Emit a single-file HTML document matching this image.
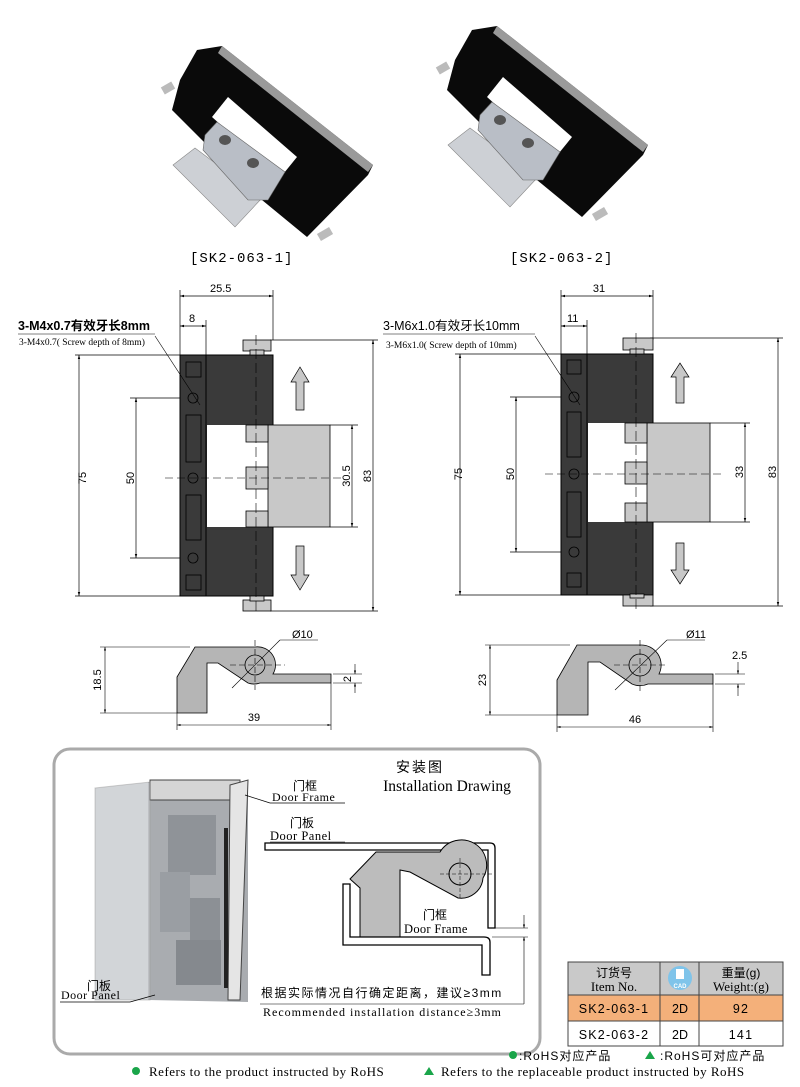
<!DOCTYPE html>
<html><head><meta charset="utf-8"><style>
html,body{margin:0;padding:0;background:#fff;}
svg{display:block;}
.s{font-family:"Liberation Sans","Noto Sans CJK SC",sans-serif;}
.r{font-family:"Liberation Serif","Noto Serif CJK SC",serif;}
.m{font-family:"Liberation Mono","Noto Sans CJK SC",monospace;}
</style></head><body>
<svg width="800" height="1087" viewBox="0 0 800 1087" xmlns="http://www.w3.org/2000/svg">
<defs>
<marker id="a" viewBox="0 0 10 10" refX="10" refY="5" markerWidth="6" markerHeight="6" orient="auto-start-reverse"><path d="M0,2 L10,5 L0,8z" fill="#000"/></marker>
<g id="photo">
  <polygon points="197,50 222,46 373,165 368,175 307,237 262,200 172,110 180,80" fill="#0a0a0a"/>
  <polygon points="222,46 373,165 368,172 218,53" fill="#9a9a9a"/>
  <polygon points="228,97 297,157 280,178 212,117" fill="#fff"/>
  <polygon points="173,165 195,148 262,198 235,227" fill="#cdd0d5" stroke="#888" stroke-width="0.6"/>
  <polygon points="205,135 217,122 285,172 268,200 248,200 203,150" fill="#b9bec6" stroke="#666" stroke-width="0.6"/>
  <ellipse cx="225" cy="140" rx="6" ry="5" fill="#555"/><ellipse cx="253" cy="163" rx="6" ry="5" fill="#555"/>
  <rect x="162" y="84" width="12" height="8" fill="#bbb" transform="rotate(-30 168 88)"/>
  <rect x="318" y="230" width="14" height="8" fill="#bbb" transform="rotate(-30 325 234)"/>
</g>
</defs>
<use href="#photo"/>
<use href="#photo" transform="translate(275,-20)"/>
<text x="190" y="262" class="m" font-size="14" letter-spacing="1">[SK2-063-1]</text>
<text x="510" y="262" class="m" font-size="14" letter-spacing="1">[SK2-063-2]</text>

<!-- LEFT DRAWING -->
<g stroke="#000" stroke-width="0.7" fill="none">
  <line x1="180" y1="290" x2="180" y2="355"/><line x1="273" y1="290" x2="273" y2="340"/><line x1="206" y1="320" x2="206" y2="355"/>
  <line x1="180" y1="296" x2="273" y2="296" marker-start="url(#a)" marker-end="url(#a)"/>
  <line x1="180" y1="326" x2="206" y2="326" marker-start="url(#a)" marker-end="url(#a)"/>
  <line x1="75" y1="355" x2="180" y2="355"/><line x1="75" y1="596" x2="180" y2="596"/>
  <line x1="79" y1="355" x2="79" y2="596" marker-start="url(#a)" marker-end="url(#a)"/>
  <line x1="130" y1="398" x2="193" y2="398"/><line x1="130" y1="558" x2="193" y2="558"/>
  <line x1="136" y1="398" x2="136" y2="558" marker-start="url(#a)" marker-end="url(#a)"/>
  <line x1="330" y1="425" x2="358" y2="425"/><line x1="330" y1="527" x2="358" y2="527"/>
  <line x1="352" y1="425" x2="352" y2="527" marker-start="url(#a)" marker-end="url(#a)"/>
  <line x1="270" y1="340" x2="378" y2="340"/><line x1="270" y1="611" x2="378" y2="611"/>
  <line x1="373" y1="340" x2="373" y2="611" marker-start="url(#a)" marker-end="url(#a)"/>
</g>
<rect x="180" y="355" width="93" height="241" fill="#3a3a3a" stroke="#000"/>
<line x1="206" y1="355" x2="206" y2="596" stroke="#000"/>
<rect x="207" y="425" width="66" height="102" fill="#fff"/>
<rect x="268" y="425" width="62" height="102" fill="#c8c8c8" stroke="#000" stroke-width="0.8"/>
<g fill="#c8c8c8" stroke="#000" stroke-width="0.8">
<rect x="246" y="425" width="22" height="17"/><rect x="246" y="467" width="22" height="22"/><rect x="246" y="511" width="22" height="16"/>
<rect x="243" y="340" width="28" height="11"/><rect x="250" y="350" width="14" height="5"/>
<rect x="243" y="600" width="28" height="11"/><rect x="250" y="596" width="14" height="5"/>
</g>
<g fill="none" stroke="#000" stroke-width="0.8">
<rect x="186" y="362" width="15" height="15"/><rect x="186" y="415" width="15" height="47"/><rect x="186" y="495" width="15" height="45"/><rect x="186" y="575" width="15" height="15"/>
<circle cx="193" cy="398" r="5"/><circle cx="193" cy="478" r="5"/><circle cx="193" cy="558" r="5"/>
</g>
<line x1="165" y1="478" x2="345" y2="478" stroke="#000" stroke-width="0.6" stroke-dasharray="8,4"/>
<line x1="256" y1="335" x2="256" y2="615" stroke="#000" stroke-width="0.6" stroke-dasharray="10,4"/>
<polygon points="296,410 296,382 291,382 300,367 309,382 304,382 304,410" fill="#c8c8c8" stroke="#000" stroke-width="0.7"/>
<polygon points="296,546 296,575 291,575 300,590 309,575 304,575 304,546" fill="#c8c8c8" stroke="#000" stroke-width="0.7"/>
<line x1="18" y1="334" x2="155" y2="334" stroke="#000" stroke-width="0.5"/>
<line x1="155" y1="336" x2="200" y2="405" stroke="#000" stroke-width="0.6"/>
<text x="18" y="330" class="s" font-size="12.5" font-weight="bold">3-M4x0.7有效牙长8mm</text>
<text x="19" y="345" class="r" font-size="9.5">3-M4x0.7( Screw depth of 8mm)</text>
<text x="210" y="292" class="s" font-size="11" >25.5</text>
<text x="189" y="322" class="s" font-size="11">8</text>
<text x="77" y="483" class="s" font-size="11" transform="rotate(-90 77 478)" text-anchor="middle" dy="4">75</text>
<text x="130" y="478" class="s" font-size="11" transform="rotate(-90 130 478)" text-anchor="middle" dy="4">50</text>
<text x="346" y="476" class="s" font-size="11" transform="rotate(-90 346 476)" text-anchor="middle" dy="4">30.5</text>
<text x="367" y="476" class="s" font-size="11" transform="rotate(-90 367 476)" text-anchor="middle" dy="4">83</text>

<!-- LEFT PROFILE -->
<path d="M177,677 L195,647 L255,647 A18,18 0 0 1 273,674 L331,674 L331,683 L260,683 A18,18 0 0 1 248,683 L218,663 L207,663 L207,713 L177,713 Z" fill="#b5b5b5" stroke="#000" stroke-width="0.8"/>
<circle cx="255" cy="665" r="10" fill="#b5b5b5" stroke="#000" stroke-width="0.8"/>
<g stroke="#000" stroke-width="0.6" fill="none">
<line x1="230" y1="665" x2="285" y2="665" stroke-dasharray="6,3"/><line x1="255" y1="640" x2="255" y2="690" stroke-dasharray="6,3"/>
<line x1="232" y1="688" x2="280" y2="640"/><line x1="280" y1="640" x2="318" y2="640"/>
<line x1="100" y1="647" x2="190" y2="647"/><line x1="100" y1="713" x2="177" y2="713"/>
<line x1="105" y1="647" x2="105" y2="713" marker-start="url(#a)" marker-end="url(#a)"/>
<line x1="177" y1="713" x2="177" y2="730"/><line x1="331" y1="683" x2="331" y2="730"/>
<line x1="177" y1="725" x2="331" y2="725" marker-start="url(#a)" marker-end="url(#a)"/>
<line x1="333" y1="674" x2="362" y2="674"/><line x1="333" y1="683" x2="362" y2="683"/>
<line x1="355" y1="664" x2="355" y2="674" marker-end="url(#a)"/><line x1="355" y1="693" x2="355" y2="683" marker-end="url(#a)"/>
</g>
<text x="292" y="638" class="s" font-size="11">Ø10</text>
<text x="101" y="680" class="s" font-size="11" transform="rotate(-90 101 680)" text-anchor="middle">18.5</text>
<text x="254" y="721" class="s" font-size="11" text-anchor="middle">39</text>
<text x="351" y="679" class="s" font-size="11" transform="rotate(-90 351 679)" text-anchor="middle">2</text>

<!-- RIGHT DRAWING -->
<g stroke="#000" stroke-width="0.7" fill="none">
  <line x1="561" y1="290" x2="561" y2="355"/><line x1="653" y1="290" x2="653" y2="340"/><line x1="587" y1="320" x2="587" y2="355"/>
  <line x1="561" y1="296" x2="653" y2="296" marker-start="url(#a)" marker-end="url(#a)"/>
  <line x1="561" y1="326" x2="587" y2="326" marker-start="url(#a)" marker-end="url(#a)"/>
  <line x1="455" y1="354" x2="561" y2="354"/><line x1="455" y1="595" x2="561" y2="595"/>
  <line x1="460" y1="354" x2="460" y2="595" marker-start="url(#a)" marker-end="url(#a)"/>
  <line x1="510" y1="397" x2="574" y2="397"/><line x1="510" y1="552" x2="574" y2="552"/>
  <line x1="516" y1="397" x2="516" y2="552" marker-start="url(#a)" marker-end="url(#a)"/>
  <line x1="710" y1="423" x2="750" y2="423"/><line x1="710" y1="522" x2="750" y2="522"/>
  <line x1="745" y1="423" x2="745" y2="522" marker-start="url(#a)" marker-end="url(#a)"/>
  <line x1="650" y1="338" x2="783" y2="338"/><line x1="650" y1="606" x2="783" y2="606"/>
  <line x1="778" y1="338" x2="778" y2="606" marker-start="url(#a)" marker-end="url(#a)"/>
</g>
<rect x="561" y="354" width="92" height="241" fill="#3a3a3a" stroke="#000"/>
<line x1="587" y1="354" x2="587" y2="595" stroke="#000"/>
<rect x="588" y="423" width="65" height="99" fill="#fff"/>
<rect x="647" y="423" width="63" height="99" fill="#c8c8c8" stroke="#000" stroke-width="0.8"/>
<g fill="#c8c8c8" stroke="#000" stroke-width="0.8">
<rect x="625" y="423" width="22" height="20"/><rect x="625" y="462" width="22" height="22"/><rect x="625" y="503" width="22" height="19"/>
<rect x="623" y="338" width="30" height="12"/><rect x="630" y="349" width="14" height="5"/>
<rect x="623" y="595" width="30" height="11"/><rect x="630" y="594" width="14" height="4"/>
</g>
<g fill="none" stroke="#000" stroke-width="0.8">
<rect x="567" y="360" width="14" height="14"/><rect x="567" y="412" width="14" height="45"/><rect x="567" y="492" width="14" height="45"/><rect x="567" y="573" width="14" height="14"/>
<circle cx="574" cy="397" r="5"/><circle cx="574" cy="474" r="5"/><circle cx="574" cy="552" r="5"/>
</g>
<line x1="545" y1="474" x2="725" y2="474" stroke="#000" stroke-width="0.6" stroke-dasharray="8,4"/>
<line x1="636" y1="333" x2="636" y2="612" stroke="#000" stroke-width="0.6" stroke-dasharray="10,4"/>
<polygon points="676,403 676,377 671,377 680,363 689,377 684,377 684,403" fill="#c8c8c8" stroke="#000" stroke-width="0.7"/>
<polygon points="676,543 676,570 671,570 680,584 689,570 684,570 684,543" fill="#c8c8c8" stroke="#000" stroke-width="0.7"/>
<line x1="383" y1="334" x2="535" y2="334" stroke="#000" stroke-width="0.5"/>
<line x1="535" y1="336" x2="580" y2="405" stroke="#000" stroke-width="0.6"/>
<text x="383" y="330" class="s" font-size="12.5">3-M6x1.0有效牙长10mm</text>
<text x="386" y="348" class="r" font-size="9.5">3-M6x1.0( Screw depth of 10mm)</text>
<text x="599" y="292" class="s" font-size="11" text-anchor="middle">31</text>
<text x="567" y="322" class="s" font-size="11">11</text>
<text x="458" y="474" class="s" font-size="11" transform="rotate(-90 458 474)" text-anchor="middle" dy="4">75</text>
<text x="510" y="474" class="s" font-size="11" transform="rotate(-90 510 474)" text-anchor="middle" dy="4">50</text>
<text x="739" y="472" class="s" font-size="11" transform="rotate(-90 739 472)" text-anchor="middle" dy="4">33</text>
<text x="772" y="472" class="s" font-size="11" transform="rotate(-90 772 472)" text-anchor="middle" dy="4">83</text>

<!-- RIGHT PROFILE -->
<path d="M557,680 L577,645 L640,645 A20,20 0 0 1 659,674 L713,674 L713,684 L648,684 A20,20 0 0 1 632,684 L600,662 L588,662 L588,715 L557,715 Z" fill="#b5b5b5" stroke="#000" stroke-width="0.8"/>
<circle cx="640" cy="665" r="11" fill="#b5b5b5" stroke="#000" stroke-width="0.8"/>
<g stroke="#000" stroke-width="0.6" fill="none">
<line x1="614" y1="665" x2="668" y2="665" stroke-dasharray="6,3"/><line x1="640" y1="640" x2="640" y2="692" stroke-dasharray="6,3"/>
<line x1="615" y1="690" x2="667" y2="640"/><line x1="667" y1="640" x2="705" y2="640"/>
<line x1="485" y1="645" x2="570" y2="645"/><line x1="485" y1="715" x2="557" y2="715"/>
<line x1="490" y1="645" x2="490" y2="715" marker-start="url(#a)" marker-end="url(#a)"/>
<line x1="557" y1="715" x2="557" y2="732"/><line x1="713" y1="684" x2="713" y2="732"/>
<line x1="557" y1="727" x2="713" y2="727" marker-start="url(#a)" marker-end="url(#a)"/>
<line x1="715" y1="674" x2="745" y2="674"/><line x1="715" y1="684" x2="745" y2="684"/>
<line x1="738" y1="662" x2="738" y2="674" marker-end="url(#a)"/><line x1="738" y1="696" x2="738" y2="684" marker-end="url(#a)"/>
</g>
<text x="686" y="638" class="s" font-size="11">Ø11</text>
<text x="486" y="680" class="s" font-size="11" transform="rotate(-90 486 680)" text-anchor="middle">23</text>
<text x="635" y="723" class="s" font-size="11" text-anchor="middle">46</text>
<text x="732" y="659" class="s" font-size="11">2.5</text>

<!-- INSTALLATION BOX -->
<rect x="54" y="749" width="486" height="305" rx="16" fill="#fff" stroke="#aaa" stroke-width="3"/>
<polygon points="95,788 150,782 150,1000 95,1000" fill="#c9ccd0" opacity="0.9"/>
<polygon points="148,782 248,782 248,1002 148,1000" fill="#a9acb0"/>
<polygon points="150,780 240,780 240,800 150,800" fill="#d5d5d5" stroke="#444" stroke-width="1"/>
<polygon points="230,785 248,780 240,1000 228,1000" fill="#e5e5e5" stroke="#444" stroke-width="1"/>
<rect x="168" y="815" width="48" height="60" fill="#8f9398"/>
<rect x="160" y="872" width="30" height="60" fill="#9a9ea3"/>
<rect x="190" y="898" width="30" height="80" fill="#8c9095"/>
<rect x="176" y="940" width="45" height="45" fill="#85898e"/>
<rect x="224" y="828" width="4" height="160" fill="#222"/>
<polygon points="95,788 150,782 150,1000 95,1000" fill="#d8dadd" opacity="0.45" stroke="#999"/>
<g stroke="#000" stroke-width="0.7" fill="none">
<line x1="245" y1="795" x2="270" y2="803"/><line x1="270" y1="803" x2="345" y2="803"/>
<line x1="155" y1="995" x2="130" y2="1002"/><line x1="60" y1="1002" x2="130" y2="1002"/>
</g>
<text x="293" y="790" class="s" font-size="12">门框</text>
<text x="272" y="801" class="r" font-size="12" letter-spacing="0.5">Door Frame</text>
<text x="87" y="990" class="s" font-size="12">门板</text>
<text x="61" y="999" class="r" font-size="12" letter-spacing="0.5">Door Panel</text>
<text x="420" y="772" class="s" font-size="14" text-anchor="middle" letter-spacing="2">安装图</text>
<text x="447" y="791" class="r" font-size="15.5" text-anchor="middle">Installation Drawing</text>
<text x="290" y="827" class="s" font-size="12">门板</text>
<text x="270" y="840" class="r" font-size="12.5" letter-spacing="0.5">Door Panel</text>
<line x1="270" y1="842" x2="345" y2="842" stroke="#000" stroke-width="0.6"/>
<path d="M265,843 L490,843 Q495,843 495,848 L495,928 L488,928 L488,850 L265,850 Z" fill="#fff" stroke="#000" stroke-width="1.3"/>
<path d="M350,879 L376,852 L440,852 A22,22 0 0 1 483,878 A22,22 0 0 1 458,898 L410,872 L400,870 L400,937 L360,937 L360,888 Z" fill="#bcbcbc" stroke="#000" stroke-width="1"/>
<circle cx="460" cy="874" r="11" fill="#bcbcbc" stroke="#000" stroke-width="1"/>
<g stroke="#000" stroke-width="0.5" stroke-dasharray="4,2"><line x1="440" y1="874" x2="493" y2="874"/><line x1="460" y1="858" x2="460" y2="900"/></g>
<path d="M343,884 L350,884 L350,937 L484,937 Q490,937 490,942 L490,975 L482,975 L482,945 L343,945 Z" fill="#fff" stroke="#000" stroke-width="1.3"/>
<g stroke="#000" stroke-width="0.6" fill="none">
<line x1="490" y1="928" x2="528" y2="928"/><line x1="492" y1="937" x2="528" y2="937"/>
<line x1="524" y1="915" x2="524" y2="928" marker-end="url(#a)"/><line x1="524" y1="950" x2="524" y2="937" marker-end="url(#a)"/>
<line x1="260" y1="1004" x2="524" y2="1004"/><line x1="524" y1="950" x2="524" y2="1004"/>
</g>
<text x="423" y="919" class="s" font-size="12">门框</text>
<text x="404" y="933" class="r" font-size="12.5" letter-spacing="0.3">Door Frame</text>
<text x="261" y="997" class="s" font-size="12" letter-spacing="1.5">根据实际情况自行确定距离，建议≥3mm</text>
<text x="263" y="1016" class="r" font-size="12" letter-spacing="1">Recommended installation distance≥3mm</text>

<!-- TABLE -->
<rect x="568" y="962" width="215" height="33" fill="#c9c9c9"/>
<rect x="568" y="995" width="215" height="26" fill="#f4b07a"/>
<g stroke="#444" stroke-width="1" fill="none">
<rect x="568" y="962" width="215" height="84"/>
<line x1="568" y1="995" x2="783" y2="995"/><line x1="568" y1="1021" x2="783" y2="1021"/>
<line x1="660" y1="962" x2="660" y2="1046"/><line x1="699" y1="962" x2="699" y2="1046"/>
</g>
<circle cx="680" cy="978" r="12" fill="#7fc4ea"/>
<text x="680" y="988" class="s" font-size="6" fill="#fff" text-anchor="middle" font-weight="bold">CAD</text>
<rect x="676" y="969" width="8" height="10" fill="#fff"/>
<text x="614" y="977" class="s" font-size="12" text-anchor="middle">订货号</text>
<text x="614" y="991" class="r" font-size="13" text-anchor="middle">Item No.</text>
<text x="741" y="977" class="s" font-size="12" text-anchor="middle">重量(g)</text>
<text x="741" y="991" class="r" font-size="13" text-anchor="middle">Weight:(g)</text>
<text x="614" y="1013" class="s" font-size="12.5" text-anchor="middle" letter-spacing="1.2">SK2-063-1</text>
<text x="680" y="1013" class="s" font-size="12.5" text-anchor="middle">2D</text>
<text x="741" y="1013" class="s" font-size="12.5" text-anchor="middle" letter-spacing="1.2">92</text>
<text x="614" y="1039" class="s" font-size="12.5" text-anchor="middle" letter-spacing="1.2">SK2-063-2</text>
<text x="680" y="1039" class="s" font-size="12.5" text-anchor="middle">2D</text>
<text x="741" y="1039" class="s" font-size="12.5" text-anchor="middle" letter-spacing="1.2">141</text>

<circle cx="513" cy="1055" r="4" fill="#1aa54a"/>
<text x="519" y="1060" class="s" font-size="12" letter-spacing="1">:RoHS对应产品</text>
<polygon points="645,1059 655,1059 650,1051" fill="#1aa54a"/>
<text x="660" y="1060" class="s" font-size="12" letter-spacing="1">:RoHS可对应产品</text>
<circle cx="136" cy="1071" r="4" fill="#1aa54a"/>
<text x="149" y="1076" class="r" font-size="13" letter-spacing="0.5">Refers to the product instructed by RoHS</text>
<polygon points="424,1075 434,1075 429,1067" fill="#1aa54a"/>
<text x="441" y="1076" class="r" font-size="13" letter-spacing="0.5">Refers to the replaceable product instructed by RoHS</text>
</svg>
</body></html>
